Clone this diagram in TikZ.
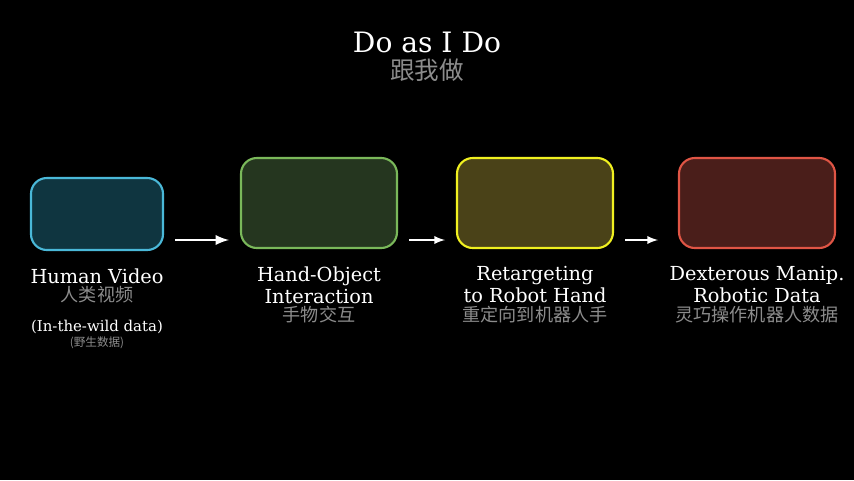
\documentclass[tikz,border=0pt]{standalone}
\usepackage{fontspec}
\setmainfont{DejaVu Serif}
\newfontfamily\cjk{Noto Sans CJK SC}
\usetikzlibrary{positioning}

\definecolor{cyanedge}{HTML}{4AB8D8}
\definecolor{cyanfill}{HTML}{0F3540}
\definecolor{greenedge}{HTML}{7AB85A}
\definecolor{greenfill}{HTML}{25361F}
\definecolor{yellowedge}{HTML}{F0F020}
\definecolor{yellowfill}{HTML}{4A4218}
\definecolor{rededge}{HTML}{E05545}
\definecolor{redfill}{HTML}{4A1E1A}
\definecolor{subgray}{HTML}{8C8C8C}

\tikzset{
  stage/.style={draw, line width=1.2pt, rounded corners=9pt},
  caption/.style={text=white, font=\fontsize{11}{12.5}\selectfont, align=center, inner sep=0pt},
  zh/.style={text=subgray, font=\cjk\fontsize{10.3}{11}\selectfont, inner sep=0pt},
  flow/.style={draw=white, -latex},
}

\begin{document}
\begin{tikzpicture}[x=0.02cm, y=-0.02cm]
                    \fill[black] (0, 0) rectangle (854, 480);
                    \useasboundingbox (0, 0) rectangle (854, 480);

                    \node[text=white, font=\fontsize{16}{18}\selectfont, inner sep=0pt] (title) at (427, 42) {Do as I Do};
                    \node[text=subgray, font=\cjk\fontsize{14}{15}\selectfont, inner sep=0pt] (titlezh) at (427, 70) {跟我做};

                    \draw[stage, draw=cyanedge, fill=cyanfill] (31, 178) rectangle (163, 250);
                    \draw[stage, draw=greenedge, fill=greenfill] (241, 158) rectangle (397, 248);
                    \draw[stage, draw=yellowedge, fill=yellowfill] (457, 158) rectangle (613, 248);
                    \draw[stage, draw=rededge, fill=redfill] (679, 158) rectangle (835, 248);

                    \coordinate (a1) at (175, 240);
                    \coordinate (b1) at (229, 240);
                    \coordinate (a2) at (409, 240);
                    \coordinate (b2) at (445, 240);
                    \coordinate (a3) at (625, 240);
                    \coordinate (b3) at (658, 240);
                    \draw[flow, line width=1.6pt] (a1) -- (b1);
                    \draw[flow, line width=1.1pt] (a2) -- (b2);
                    \draw[flow, line width=1.1pt] (a3) -- (b3);

                    \node[caption] (human) at (97, 276) {Human Video};
                    \node[zh] (humanzh) at (97, 295) {人类视频};
                    \node[caption, font=\fontsize{8.5}{10}\selectfont] (wild) at (97, 327) {(In-the-wild data)};
                    \node[zh, font=\cjk\fontsize{6.6}{7}\selectfont] (wildzh) at (97, 343) {(野生数据)};

                    \node[caption] (hoi) at (319, 285) {Hand-Object\\Interaction};
                    \node[zh] (hoizh) at (319, 315) {手物交互};

                    \node[caption] (retarget) at (535, 285) {Retargeting\\to Robot Hand};
                    \node[zh] (retargetzh) at (535, 315) {重定向到机器人手};

                    \node[caption] (dex) at (757, 285) {Dexterous Manip.\\Robotic Data};
                    \node[zh] (dexzh) at (757, 315) {灵巧操作机器人数据};
\end{tikzpicture}
\end{document}
